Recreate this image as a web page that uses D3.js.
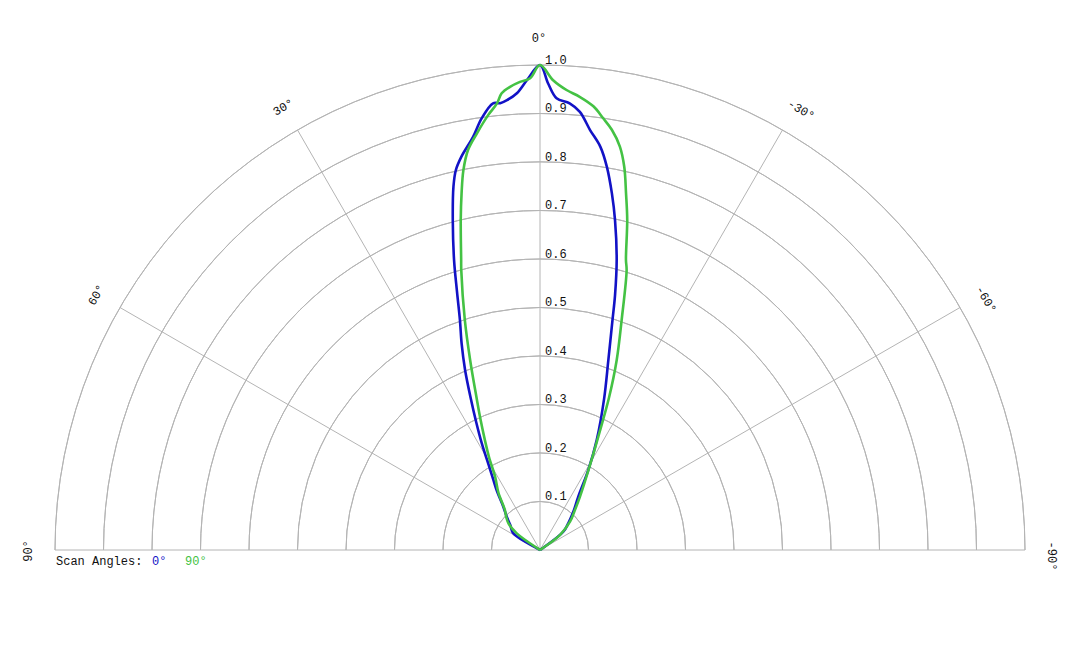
<!DOCTYPE html>
<html>
<head>
<meta charset="utf-8">
<script src="https://cdn.jsdelivr.net/npm/d3@7/dist/d3.min.js"></script>
<style>
  html, body { margin: 0; padding: 0; background: #ffffff; }
  svg { display: block; }
  text { font-family: "Liberation Mono", "DejaVu Sans Mono", monospace; font-size: 12px; fill: #111; }
</style>
</head>
<body>
<svg id="chart" width="1080" height="648"></svg>
<script>
// ---- data ----
const radialTicks = [0.1, 0.2, 0.3, 0.4, 0.5, 0.6, 0.7, 0.8, 0.9, 1.0];
const radialTickLabels = ["0.1", "0.2", "0.3", "0.4", "0.5", "0.6", "0.7", "0.8", "0.9", "1.0"];
const angleTicks = [90, 60, 30, 0, -30, -60, -90];
const angleTickLabels = ["90°", "60°", "30°", "0°", "-30°", "-60°", "-90°"];
const legendTitle = "Scan Angles:";
const seriesNames = ["0°", "90°"];
const seriesColors = ["#1212c6", "#44c244"];

// scan angle 0° (blue): polar angle (deg) and relative intensity
const scan0Angles = [90, 62, 58, 50, 45, 40.3, 36, 33.7, 31.1, 28.6, 26.5, 24.5, 22.6, 20.8, 19.2, 17.8, 16.5, 14.8, 13.4, 12.5, 11.3, 9.2, 7.7, 6.0, 5.1, 4.2, 2.9, 1.6, 0,
  -1.0, -2.1, -3.8, -5.2, -6.8, -8.5, -9.9, -11.4, -12.8, -14.8, -16.4, -17.5, -19.8, -23.0, -27.3, -31.1, -35.7, -41, -46.7, -51.9, -55, -90];
const scan0Values = [0, 0.005, 0.065, 0.080, 0.097, 0.117, 0.152, 0.173, 0.205, 0.251, 0.295, 0.345, 0.402, 0.455, 0.502, 0.560, 0.624, 0.704, 0.770, 0.802, 0.827, 0.863, 0.898, 0.926, 0.925, 0.930, 0.943, 0.969, 1.0,
  0.962, 0.932, 0.923, 0.907, 0.872, 0.841, 0.802, 0.750, 0.698, 0.619, 0.548, 0.497, 0.416, 0.338, 0.255, 0.193, 0.135, 0.105, 0.080, 0.061, 0.005, 0];

// scan angle 90° (green)
const scan90Angles = [90, 57, 54.4, 49.9, 45, 41.2, 36, 31.5, 28.8, 26.6, 24.5, 22.7, 20.2, 18.1, 15.7, 15.2, 13.5, 12.4, 11.4, 10.2, 8.6, 6.8, 5.5, 4.8, 3.7, 2.45, 1.2, 0,
  -1.6, -3.3, -5.0, -6.9, -8.3, -9.7, -11.2, -12.4, -13.55, -14.8, -16.5, -17.2, -19.55, -22.0, -24.4, -27.2, -30.5, -36.9, -41, -46.7, -53, -56, -90];
const scan90Values = [0, 0.005, 0.059, 0.085, 0.099, 0.110, 0.146, 0.177, 0.218, 0.254, 0.296, 0.338, 0.417, 0.499, 0.600, 0.620, 0.700, 0.753, 0.799, 0.838, 0.869, 0.903, 0.925, 0.945, 0.957, 0.966, 0.973, 1.0,
  0.969, 0.950, 0.938, 0.921, 0.900, 0.879, 0.848, 0.809, 0.757, 0.704, 0.624, 0.604, 0.503, 0.422, 0.344, 0.263, 0.203, 0.137, 0.110, 0.085, 0.052, 0.005, 0];

// ---- layout ----
const cx = 540, cy = 550, R = 485;
const svg = d3.select("#chart");
const g = svg.append("g").attr("transform", `translate(${cx},${cy})`);

const rScale = d3.scaleLinear().domain([0, 1]).range([0, R]);
// positive angles on the left, negative on the right; 0° straight up
const aScale = d3.scaleLinear().domain([-90, 90]).range([Math.PI / 2, -Math.PI / 2]);

const gridColor = "#b4b4b4";

// rings
const ringArc = d3.arc().startAngle(-Math.PI / 2).endAngle(Math.PI / 2);
g.append("g").selectAll("path").data(radialTicks).join("path")
  .attr("d", d => ringArc({ innerRadius: rScale(d), outerRadius: rScale(d) }))
  .attr("fill", "none").attr("stroke", gridColor).attr("stroke-width", 1);

// spokes
g.append("g").selectAll("line").data(angleTicks).join("line")
  .attr("x1", 0).attr("y1", 0)
  .attr("x2", d => rScale(1) * Math.sin(aScale(d)))
  .attr("y2", d => -rScale(1) * Math.cos(aScale(d)))
  .attr("stroke", gridColor).attr("stroke-width", 1);

// radial tick labels
g.append("g").selectAll("text").data(radialTicks).join("text")
  .attr("x", 5).attr("y", d => -rScale(d) - 1.5)
  .text((d, i) => radialTickLabels[i]);

// angle labels
const labelR = R + 23;
g.append("g").selectAll("text").data(angleTicks).join("text")
  .attr("text-anchor", "middle")
  .attr("transform", d => {
    const a = aScale(d);
    return `translate(${labelR * Math.sin(a)},${-labelR * Math.cos(a)}) rotate(${-d})`;
  })
  .attr("dx", d => d < 0 ? 6 : -1)
  .text((d, i) => angleTickLabels[i]);

// curves
const lineRadial = d3.lineRadial()
  .angle(d => aScale(d[0]))
  .radius(d => rScale(d[1]))
  .curve(d3.curveCatmullRom.alpha(0.5));

const series = [
  d3.zip(scan0Angles, scan0Values),
  d3.zip(scan90Angles, scan90Values)
];
g.append("g").selectAll("path").data(series).join("path")
  .attr("d", d => lineRadial(d))
  .attr("fill", "none")
  .attr("stroke", (d, i) => seriesColors[i])
  .attr("stroke-width", 2.6)
  .attr("stroke-linejoin", "round");

// legend
const legend = svg.append("g").attr("transform", "translate(56,565)");
legend.append("text").attr("x", 0).attr("y", 0).text(legendTitle);
const legendX = d3.scalePoint().domain(seriesNames).range([96, 129]);
legend.selectAll("text.item").data(seriesNames).join("text")
  .attr("class", "item")
  .attr("x", d => legendX(d)).attr("y", 0)
  .style("fill", (d, i) => seriesColors[i])
  .text(d => d);
</script>
</body>
</html>
